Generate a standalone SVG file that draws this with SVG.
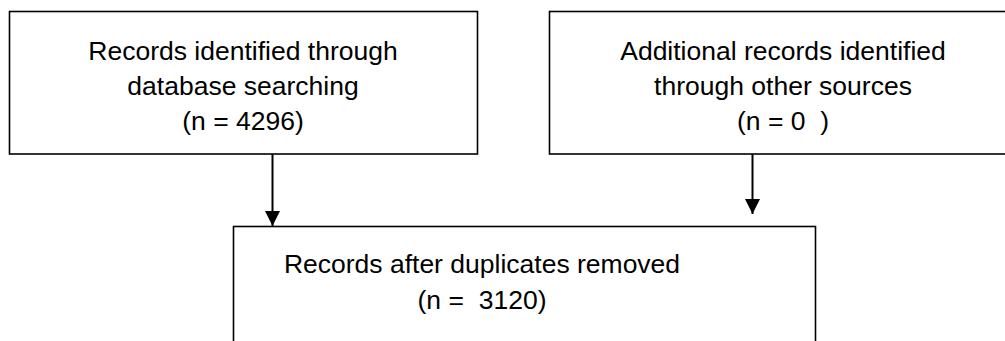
<svg xmlns="http://www.w3.org/2000/svg" width="1005" height="341" viewBox="0 0 1005 341">
<defs>
<style>
.box{fill:#fff;stroke:#000;stroke-width:1.6}
.lbl{font-family:"Liberation Sans",Arial,sans-serif;font-size:26.5px;fill:#000;text-anchor:middle}
.conn{stroke:#000;stroke-width:2;fill:none}
</style>
<marker id="ah" markerUnits="userSpaceOnUse" markerWidth="15" markerHeight="16" refX="15" refY="7.5" orient="auto" viewBox="0 0 15 15">
<path d="M0,0 L15,7.5 L0,15 z" fill="#000"/>
</marker>
</defs>
<rect width="1005" height="341" fill="#fff"/>
<g id="connectors">
<line class="conn" x1="272.5" y1="154" x2="272.5" y2="226" marker-end="url(#ah)"/>
<line class="conn" x1="752.5" y1="154" x2="752.5" y2="214" marker-end="url(#ah)"/>
</g>
<g id="node-database">
<rect class="box" x="9.5" y="11.5" width="468" height="142.5"/>
<text class="lbl" x="243" y="60">Records identified through</text>
<text class="lbl" x="243" y="94.5">database searching</text>
<text class="lbl" x="243" y="130">(n = 4296)</text>
</g>
<g id="node-other">
<rect class="box" x="549.5" y="11.5" width="480" height="142.5"/>
<text class="lbl" x="783" y="60">Additional records identified</text>
<text class="lbl" x="783" y="94.5">through other sources</text>
<text class="lbl" x="783" y="130" xml:space="preserve">(n = 0  )</text>
</g>
<g id="node-duplicates">
<rect class="box" x="233.5" y="226.5" width="582" height="140"/>
<text class="lbl" x="482" y="273">Records after duplicates removed</text>
<text class="lbl" x="482" y="309" xml:space="preserve">(n =  3120)</text>
</g>
</svg>
